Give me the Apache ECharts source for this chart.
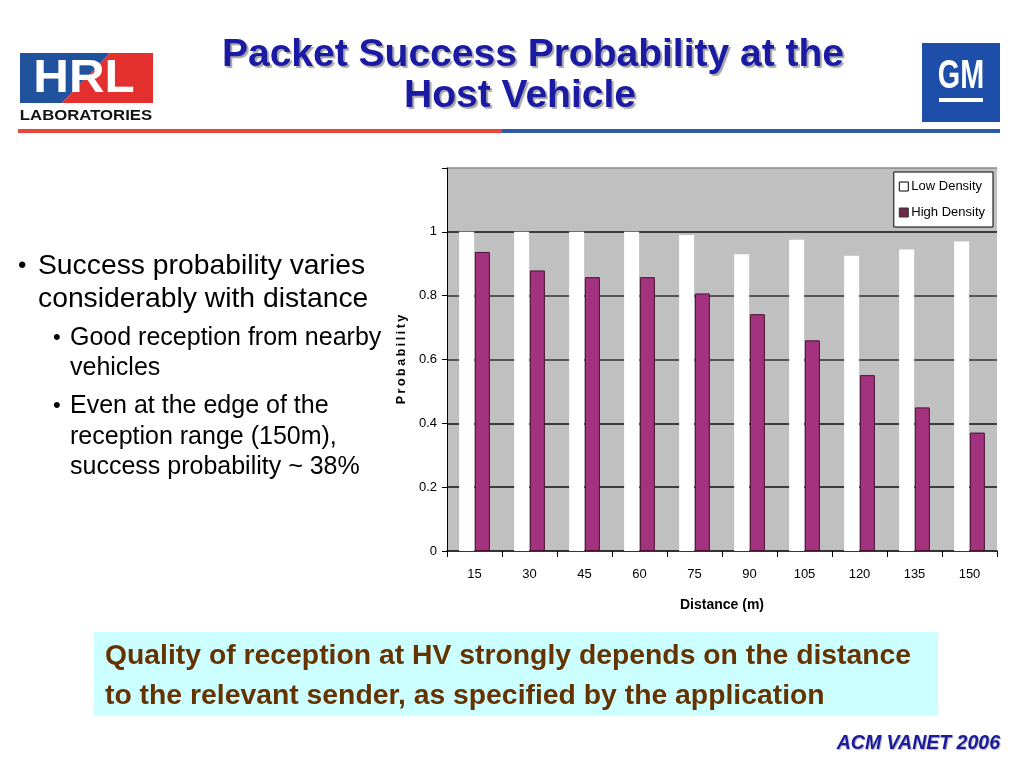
<!DOCTYPE html>
<html>
<head>
<meta charset="utf-8">
<script src="https://cdn.jsdelivr.net/npm/echarts@6/dist/echarts.min.js"></script>
<style>
html,body{margin:0;padding:0;background:#fff;}
#c{width:1024px;height:768px;}
</style>
</head>
<body>
<div id="c"></div>
<script>
const categories = ['15', '30', '45', '60', '75', '90', '105', '120', '135', '150'];
const lowDensity = [1.0, 1.0, 1.0, 1.0, 0.99, 0.93, 0.975, 0.925, 0.945, 0.97];
const highDensity = [0.937, 0.879, 0.858, 0.858, 0.807, 0.742, 0.66, 0.551, 0.45, 0.371];
const seriesNames = ['Low Density', 'High Density'];
const titleLines = ['Packet Success Probability at the', 'Host Vehicle'];
const calloutLines = ['Quality of reception at HV strongly depends on the distance', 'to the relevant sender, as specified by the application'];

const sans = "'Liberation Sans', Arial, sans-serif";
const narrow = sans;

const chart = echarts.init(document.getElementById('c'));

const graphics = [
  // HRL logo
  { type: 'polygon', shape: { points: [[20, 53], [110, 53], [62, 103], [20, 103]] }, style: { fill: '#21529e' } },
  { type: 'polygon', shape: { points: [[110, 53], [153, 53], [153, 103], [62, 103]] }, style: { fill: '#e3302f' } },
  { type: 'text', x: 84, y: 79, scaleX: 1.05, style: { text: 'HRL', fill: '#fff', font: 'bold 47px ' + sans, align: 'center', verticalAlign: 'middle' } },
  { type: 'text', x: 86, y: 116, scaleX: 1.08, style: { text: 'LABORATORIES', fill: '#111', font: 'bold 15.5px ' + sans, align: 'center', verticalAlign: 'middle' } },
  // header lines
  { type: 'rect', shape: { x: 18, y: 129, width: 484, height: 4 }, style: { fill: '#e8463a' } },
  { type: 'rect', shape: { x: 502, y: 129, width: 498, height: 4 }, style: { fill: '#2e5ca8' } },
  // GM logo
  { type: 'rect', shape: { x: 922, y: 43, width: 78, height: 79 }, style: { fill: '#1d4faa' } },
  { type: 'text', x: 961, y: 77, scaleX: 0.72, style: { text: 'GM', fill: '#fff', font: 'bold 40px ' + sans, align: 'center', verticalAlign: 'middle' } },
  { type: 'rect', shape: { x: 939, y: 98, width: 44, height: 4 }, style: { fill: '#fff' } },
  // title
  { type: 'text', x: 533, y: 55, style: { text: titleLines[0], fill: '#1a1aa3', font: 'bold 39px ' + sans, align: 'center', verticalAlign: 'middle', textShadowColor: 'rgba(0,0,0,0.35)', textShadowOffsetX: 2, textShadowOffsetY: 2, textShadowBlur: 1 } },
  { type: 'text', x: 520, y: 96, style: { text: titleLines[1], fill: '#1a1aa3', font: 'bold 39px ' + sans, align: 'center', verticalAlign: 'middle', textShadowColor: 'rgba(0,0,0,0.35)', textShadowOffsetX: 2, textShadowOffsetY: 2, textShadowBlur: 1 } },
  // bullets
  { type: 'text', x: 18, y: 266, style: { text: '•', fill: '#000', font: '24px ' + sans, verticalAlign: 'middle' } },
  { type: 'text', x: 38, y: 266, style: { text: 'Success probability varies', fill: '#000', font: '28.3px ' + sans, verticalAlign: 'middle' } },
  { type: 'text', x: 38, y: 299, style: { text: 'considerably with distance', fill: '#000', font: '28.3px ' + sans, verticalAlign: 'middle' } },
  { type: 'text', x: 53, y: 338, style: { text: '•', fill: '#000', font: '22px ' + sans, verticalAlign: 'middle' } },
  { type: 'text', x: 70, y: 338, style: { text: 'Good reception from nearby', fill: '#000', font: '25px ' + sans, verticalAlign: 'middle' } },
  { type: 'text', x: 70, y: 368, style: { text: 'vehicles', fill: '#000', font: '25px ' + sans, verticalAlign: 'middle' } },
  { type: 'text', x: 53, y: 406, style: { text: '•', fill: '#000', font: '22px ' + sans, verticalAlign: 'middle' } },
  { type: 'text', x: 70, y: 406, style: { text: 'Even at the edge of the', fill: '#000', font: '25px ' + sans, verticalAlign: 'middle' } },
  { type: 'text', x: 70, y: 437, style: { text: 'reception range (150m),', fill: '#000', font: '25px ' + sans, verticalAlign: 'middle' } },
  { type: 'text', x: 70, y: 467, style: { text: 'success probability ~ 38%', fill: '#000', font: '25px ' + sans, verticalAlign: 'middle' } },
  // callout box
  { type: 'rect', shape: { x: 94, y: 632, width: 844, height: 84 }, style: { fill: '#ccffff' } },
  { type: 'text', x: 105, y: 656, scaleX: 1.012, style: { text: calloutLines[0], fill: '#663300', font: 'bold 28px ' + sans, verticalAlign: 'middle' } },
  { type: 'text', x: 105, y: 696, scaleX: 1.012, style: { text: calloutLines[1], fill: '#663300', font: 'bold 28px ' + sans, verticalAlign: 'middle' } },
  // footer
  { type: 'text', x: 1000, y: 744, style: { text: 'ACM VANET 2006', fill: '#1a1a9a', font: 'italic bold 19.5px ' + sans, align: 'right', verticalAlign: 'middle', textShadowColor: 'rgba(0,0,0,0.3)', textShadowOffsetX: 1, textShadowOffsetY: 1, textShadowBlur: 1 } }
];

chart.setOption({
  animation: false,
  backgroundColor: '#fff',
  grid: { left: 447, top: 168, width: 550, height: 383, show: true, backgroundColor: '#c0c0c0', borderWidth: 0 },
  legend: {
    right: 31, top: 172, orient: 'vertical',
    backgroundColor: '#fff', borderColor: '#000', borderWidth: 1,
    padding: [8, 8, 8, 5], itemGap: 13, itemWidth: 9, itemHeight: 9,
    icon: 'rect',
    textStyle: { fontFamily: narrow, fontSize: 13, color: '#000', padding: [0, 0, 0, -2] },
    data: [
      { name: seriesNames[0], itemStyle: { color: '#fff', borderColor: '#000', borderWidth: 1 } },
      { name: seriesNames[1], itemStyle: { color: '#6e2a4a', borderColor: '#333', borderWidth: 1 } }
    ]
  },
  xAxis: {
    type: 'category', data: categories,
    name: 'Distance (m)', nameLocation: 'middle', nameGap: 47,
    nameTextStyle: { fontFamily: narrow, fontSize: 14, fontWeight: 'bold', color: '#000' },
    axisLine: { lineStyle: { color: '#000', width: 1.5 } },
    axisTick: { show: true, length: 6, lineStyle: { color: '#000' }, alignWithLabel: false },
    axisLabel: { fontFamily: narrow, fontSize: 13, color: '#000', margin: 17 }
  },
  yAxis: {
    type: 'value', min: 0, max: 1.2, interval: 0.2,
    name: 'P\u2009r\u2009o\u2009b\u2009a\u2009b\u2009i\u2009l\u2009i\u2009t\u2009y', nameLocation: 'middle', nameGap: 33, nameRotate: 90,
    nameTextStyle: { fontFamily: sans, fontSize: 12.5, fontWeight: 'bold', color: '#000' },
    axisLine: { show: true, lineStyle: { color: '#000', width: 1 } },
    axisTick: { show: true, length: 5, lineStyle: { color: '#000' } },
    axisLabel: {
      fontFamily: narrow, fontSize: 13, color: '#000', margin: 10,
      formatter: function (v) { const r = Math.round(v * 10) / 10; return r > 1.05 ? '' : String(r); }
    },
    splitLine: { show: true, lineStyle: { color: ['#c0c0c0', '#111', '#111', '#333', '#333', '#111', '#888'], width: 1.5 } }
  },
  series: [
    {
      name: seriesNames[0], type: 'bar', data: lowDensity, barWidth: 15, barGap: '5%',
      itemStyle: { color: '#ffffff' }
    },
    {
      name: seriesNames[1], type: 'bar', data: highDensity, barWidth: 15,
      itemStyle: { color: '#a3327f', borderColor: '#4a1030', borderWidth: 1 }
    }
  ],
  graphic: graphics
});
</script>
</body>
</html>
